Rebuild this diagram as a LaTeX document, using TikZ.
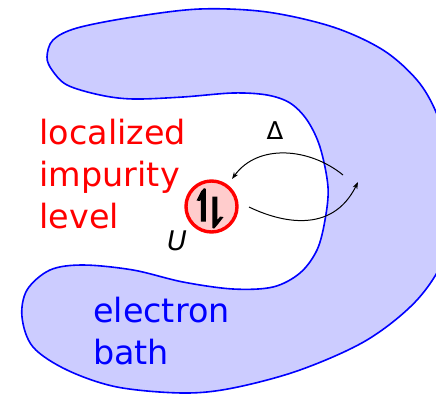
\documentclass[tikz,border=0pt]{standalone}
\usepackage{fontspec}
\setmainfont{DejaVu Sans}
\usetikzlibrary{arrows.meta}
\definecolor{bathfill}{RGB}{204,204,255}
\definecolor{impfill}{RGB}{255,204,204}
\tikzset{
  bathline/.style={draw=blue, line width=1.6, fill=bathfill},
  bigtext/.style={font=\fontsize{33.4}{42}\selectfont, align=left, inner sep=0pt, anchor=north west},
  hop/.style={line width=1, -{Stealth[length=7pt,width=5pt]}},
  spin/.style={fill=black, draw=none}
}
\begin{document}
\begin{tikzpicture}[x=1pt,y=-1pt]
\useasboundingbox (0,0) rectangle (436,394);
\begin{scope}
\clip (0,0) rectangle (436,394);
\draw[bathline] plot[smooth cycle, tension=0.55] coordinates {
 (47,57) (53,40) (77,28) (133,17) (200,9) (267,12) (333,27) (383,50) (417,80) (436,112)
 (447,150) (450,200) (445,255) (417,300) (367,340) (300,370) (233,388) (183,393) (117,387)
 (67,370) (33,347) (22,317) (27,290) (50,270) (83,265) (133,270) (183,282) (233,289)
 (273,287) (300,273) (317,250) (325,220) (328,187) (320,147) (307,120) (290,103) (267,95)
 (233,93) (183,97) (133,99) (100,95) (67,85) (52,70)};
\end{scope}
\node[bigtext, text=red] (loc) at (39.5,118.5) {localized\\impurity\\level};
\node[bigtext, text=blue] (bath) at (93,296.5) {electron\\bath};
\node[circle, draw=red, line width=3.4, fill=impfill, minimum size=51, inner sep=0pt] (imp) at (211.5,206.5) {};
\begin{scope}[shift={(imp.center)}]
\fill[spin] (-5.7,15) -- (-5.7,-17.7) -- (-7.5,-18.3) -- (-10.5,-15) -- (-15,-6) -- (-11.5,-5.5) -- (-10.7,-7.5) -- (-10.7,15) -- cycle;
\fill[spin] (0.8,-10) -- (0.8,21.5) -- (2.6,22.1) -- (5.6,18.8) -- (12,10.6) -- (8.6,10) -- (5.8,13.5) -- (5.8,-10) -- cycle;
\end{scope}
\node[font=\fontsize{24.5}{24.5}\selectfont, anchor=base, inner sep=0pt] (delta) at (275,139) {Δ};
\node[font=\fontsize{27}{27}\selectfont\itshape, inner sep=0pt] (u) at (177,240.5) {U};
\coordinate (b1) at (343,175);
\coordinate (c1) at (232,179);
\coordinate (c2) at (249,207);
\coordinate (b2) at (358,182);
\draw[hop] (b1) .. controls (310,148) and (258,143) .. (c1);
\draw[hop] (c2) .. controls (280,222) and (332,235) .. (b2);
\end{tikzpicture}
\end{document}
